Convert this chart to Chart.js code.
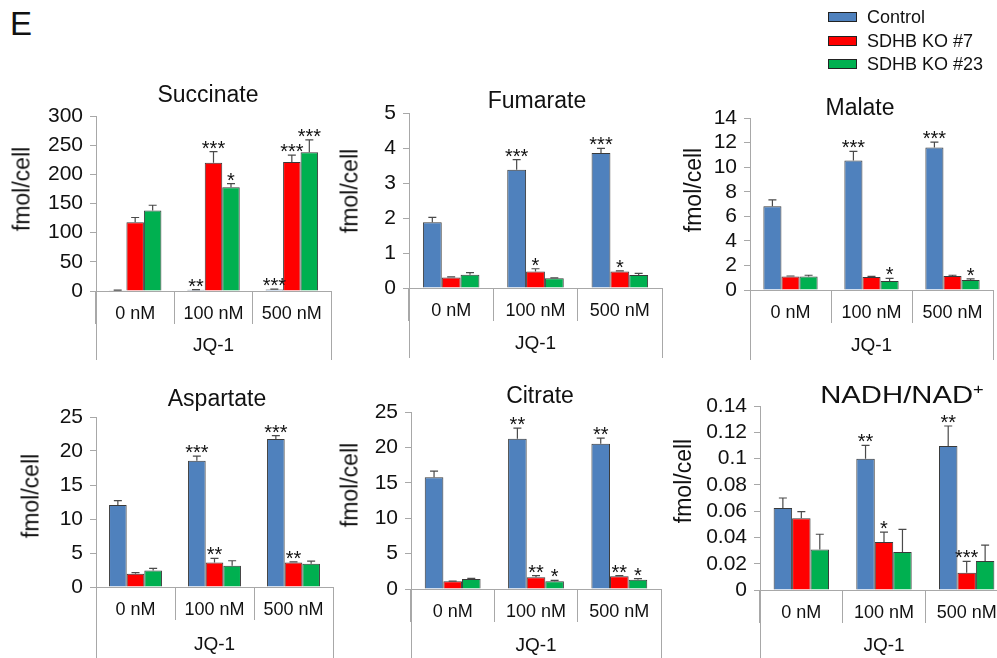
<!DOCTYPE html>
<html>
<head>
<meta charset="utf-8">
<script src="https://cdn.jsdelivr.net/npm/chart.js@4.4.1/dist/chart.umd.min.js"></script>
<style>
html, body { margin: 0; padding: 0; background: #fff; overflow: hidden; }
body { width: 997px; height: 658px; position: relative; font-family: "Liberation Sans", Arial, sans-serif; color: #111; }
canvas { position: absolute; }
.txt { position: absolute; white-space: nowrap; line-height: 1; }
.title { font-size: 23px; transform: translate(-50%, -50%); }
.ylab { font-size: 23px; transform: translate(-50%, -50%) rotate(-90deg); }
.legend-row { position: absolute; left: 828px; font-size: 18px; line-height: 1; }
.legend-row span.box { position: absolute; left: 0; width: 27px; height: 8px; border: 1px solid #222; }
.legend-row span.lbl { position: absolute; left: 39px; transform: translateY(-50%); white-space: nowrap; }
</style>
</head>
<body>
<div class="txt" style="left:10px; top:7px; font-size:33px;">E</div>
<script>
const doses = ['0 nM', '100 nM', '500 nM']
const groups = ['Control', 'SDHB KO #7', 'SDHB KO #23']
const fills = ['#4F81BD', '#FF0000', '#00B050']

// rows: Control, KO #7, KO #23; columns: 0, 100, 500 nM JQ-1
const succinateMeans = [[1.2, 2.0, 2.5], [118, 220, 221], [138, 178, 238]]
const succinateErrors = [[0.3, 0.5, 0.8], [8, 19, 12], [9, 6, 21]]
const succinateStars = [['', '**', '***'], ['', '***', '***'], ['', '*', '***']]

const fumarateMeans = [[1.88, 3.38, 3.86], [0.30, 0.47, 0.47], [0.38, 0.28, 0.37]]
const fumarateErrors = [[0.14, 0.29, 0.13], [0.02, 0.08, 0.02], [0.06, 0.01, 0.05]]
const fumarateStars = [['', '***', '***'], ['', '*', '*'], ['', '', '']]

const malateMeans = [[6.82, 10.54, 11.6], [1.09, 1.06, 1.14], [1.09, 0.73, 0.82]]
const malateErrors = [[0.52, 0.74, 0.44], [0.05, 0.05, 0.06], [0.11, 0.22, 0.08]]
const malateStars = [['', '***', '***'], ['', '', ''], ['', '*', '*']]

const aspartateMeans = [[12.06, 18.55, 21.78], [1.95, 3.61, 3.61], [2.44, 3.13, 3.42]]
const aspartateErrors = [[0.64, 0.69, 0.49], [0.15, 0.59, 0.09], [0.29, 0.73, 0.38]]
const aspartateStars = [['', '***', '***'], ['', '**', '**'], ['', '', '']]

const citrateMeans = [[15.78, 21.22, 20.51], [1.09, 1.65, 1.8], [1.42, 1.09, 1.32]]
const citrateErrors = [[0.86, 1.51, 0.8], [0.03, 0.24, 0.09], [0.09, 0.14, 0.14]]
const citrateStars = [['', '**', '**'], ['', '**', '**'], ['', '*', '*']]

const nadhMeans = [[0.0624, 0.0999, 0.1096], [0.0545, 0.0365, 0.0132], [0.0309, 0.0289, 0.0221]]
const nadhErrors = [[0.0076, 0.0101, 0.0152], [0.0051, 0.0076, 0.0086], [0.0115, 0.0173, 0.0121]]
const nadhStars = [['', '**', '**'], ['', '*', '***'], ['', '', '']]

const axisGray = '#a8a8a8'
const fontFamily = '"Liberation Sans", Arial, sans-serif'

const panels = [
	{ title: 'Succinate', means: succinateMeans, errors: succinateErrors, stars: succinateStars, yMax: 300, yStep: 50,
		axisX: 96, right: 331, topY: 116, zeroY: 291, floor: 360, jqY: 346, titleAt: [208, 94], ylabAt: [22, 189] },
	{ title: 'Fumarate', means: fumarateMeans, errors: fumarateErrors, stars: fumarateStars, yMax: 5, yStep: 1,
		axisX: 409, right: 662, topY: 113, zeroY: 288, floor: 358, jqY: 344, titleAt: [537, 100], ylabAt: [350, 191] },
	{ title: 'Malate', means: malateMeans, errors: malateErrors, stars: malateStars, yMax: 14, yStep: 2,
		axisX: 750, right: 993, topY: 118, zeroY: 290, floor: 360, jqY: 346, titleAt: [860, 107], ylabAt: [693, 190] },
	{ title: 'Aspartate', means: aspartateMeans, errors: aspartateErrors, stars: aspartateStars, yMax: 25, yStep: 5,
		axisX: 96, right: 333, topY: 417, zeroY: 587, floor: 658, jqY: 645, titleAt: [217, 398], ylabAt: [31, 496] },
	{ title: 'Citrate', means: citrateMeans, errors: citrateErrors, stars: citrateStars, yMax: 25, yStep: 5,
		axisX: 411, right: 661, topY: 412, zeroY: 589, floor: 658, jqY: 646, titleAt: [540, 395], ylabAt: [350, 485] },
	{ title: 'NADH/NAD<sup style="font-size:15px;vertical-align:9px">+</sup>', wide: true, means: nadhMeans, errors: nadhErrors, stars: nadhStars, yMax: 0.14, yStep: 0.02,
		axisX: 760, right: 1008, topY: 406, zeroY: 590, floor: 658, jqY: 646, titleAt: [902, 394], ylabAt: [683, 481] }
]

// error whiskers, significance stars and the long outer dividers of the JQ-1 row
const errorBars = {
	id: 'errorBars',
	afterDatasetsDraw(chart, args, opts) {
		const { ctx, chartArea } = chart
		const y = chart.scales.y
		ctx.save()
		chart.data.datasets.forEach((ds, i) => {
			chart.getDatasetMeta(i).data.forEach((bar, j) => {
				const top = y.getPixelForValue(ds.data[j] + ds.errors[j])
				ctx.strokeStyle = '#4a4a4a'
				ctx.lineWidth = 1.2
				ctx.beginPath()
				ctx.moveTo(bar.x, bar.y)
				ctx.lineTo(bar.x, top)
				ctx.moveTo(bar.x - 4, top)
				ctx.lineTo(bar.x + 4, top)
				ctx.stroke()
				if (ds.stars[j]) {
					ctx.fillStyle = '#111'
					ctx.font = `20px ${fontFamily}`
					ctx.textAlign = 'center'
					ctx.textBaseline = 'alphabetic'
					ctx.fillText(ds.stars[j], bar.x, top + 3)
				}
			})
		})
		ctx.strokeStyle = axisGray
		ctx.lineWidth = 1
		ctx.beginPath()
		ctx.moveTo(Math.round(chartArea.left) + 0.5, chartArea.bottom)
		ctx.lineTo(Math.round(chartArea.left) + 0.5, opts.floor)
		ctx.moveTo(Math.round(chartArea.right) + 0.5, chartArea.bottom)
		ctx.lineTo(Math.round(chartArea.right) + 0.5, opts.floor)
		ctx.stroke()
		ctx.restore()
	}
}

function addText(cls, html, at, wide) {
	const el = document.createElement('div')
	el.className = 'txt ' + cls
	el.innerHTML = html
	el.style.left = at[0] + 'px'
	el.style.top = at[1] + 'px'
	if (wide) {
		el.style.fontSize = '24px'
		el.style.transform = 'translate(-50%, -50%) scaleX(1.22)'
	}
	document.body.appendChild(el)
}

function buildPanel(p) {
	const left = p.axisX - 62
	const top = p.topY - 30
	const bottom = p.floor + 2
	const canvas = document.createElement('canvas')
	canvas.width = p.right + 6 - left
	canvas.height = bottom - top
	canvas.style.left = left + 'px'
	canvas.style.top = top + 'px'
	document.body.appendChild(canvas)

	const datasets = groups.map((name, i) => ({
		label: name,
		data: p.means[i],
		errors: p.errors[i],
		stars: p.stars[i],
		backgroundColor: fills[i],
		borderColor: '#3a3a3a',
		borderWidth: 1,
		categoryPercentage: 0.67,
		barPercentage: 1
	}))

	new Chart(canvas.getContext('2d'), {
		type: 'bar',
		data: { labels: doses, datasets },
		options: {
			responsive: false,
			animation: false,
			layout: { padding: { top: 30, right: 6, left: 0, bottom: 0 } },
			plugins: {
				legend: { display: false },
				tooltip: { enabled: false },
				errorBars: { floor: p.floor - top }
			},
			scales: {
				x: {
					offset: true,
					grid: { display: true, offset: true, drawOnChartArea: false, tickLength: 33, color: axisGray },
					border: { color: axisGray },
					ticks: { padding: -21, color: '#111', font: { family: fontFamily, size: 18 } },
					title: {
						display: true, text: 'JQ-1', color: '#111',
						font: { family: fontFamily, size: 19 },
						padding: { top: 0, bottom: bottom - p.jqY - 11.4 }
					},
					afterFit: s => { s.height = bottom - p.zeroY }
				},
				y: {
					min: 0,
					max: p.yMax,
					grid: { display: true, drawOnChartArea: false, tickLength: 6, color: axisGray },
					border: { color: axisGray },
					ticks: {
						stepSize: p.yStep,
						autoSkip: false,
						padding: 7,
						color: '#111',
						font: { family: fontFamily, size: 21 },
						callback: v => String(+v.toFixed(2))
					},
					afterFit: s => { s.width = 62 }
				}
			}
		},
		plugins: [errorBars]
	})

	addText('title', p.title, p.titleAt, p.wide)
	addText('ylab', 'fmol/cell', p.ylabAt)
}

panels.forEach(buildPanel)

groups.forEach((name, i) => {
	const row = document.createElement('div')
	row.className = 'legend-row'
	row.style.top = (17 + i * 23.5) + 'px'
	row.innerHTML = `<span class="box" style="background:${fills[i]};top:-5px"></span><span class="lbl">${name}</span>`
	document.body.appendChild(row)
})
</script>
</body>
</html>
